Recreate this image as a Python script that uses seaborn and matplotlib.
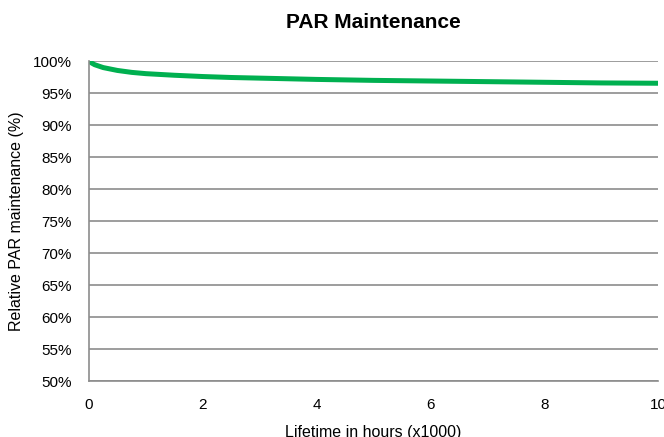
import numpy as np
import pandas as pd
import seaborn as sns
import matplotlib.pyplot as plt
from matplotlib.ticker import PercentFormatter

# Data (hours x1000 vs relative PAR maintenance %)
hours = [0, 0.05, 0.1, 0.25, 0.5, 0.75, 1, 1.5, 2, 2.5, 3, 4, 5, 6, 7, 8, 9, 10]
par = [100, 99.7, 99.45, 99.0, 98.55, 98.25, 98.05, 97.8, 97.6, 97.45, 97.35, 97.15, 97.0, 96.9, 96.8, 96.7, 96.6, 96.55]

df = pd.DataFrame({'hours': hours, 'par': par})

sns.set_style('white', {'text.color': 'black', 'axes.labelcolor': 'black'})
plt.rcParams['font.family'] = ['Liberation Sans', 'DejaVu Sans']

fig = plt.figure(figsize=(6.64, 4.37), dpi=100)
ax = fig.add_axes([0.134, 0.128, 0.857, 0.732])

sns.lineplot(data=df, x='hours', y='par', color='#00B050', linewidth=3.6, ax=ax)

ax.set_xlim(0, 10)
ax.set_ylim(50, 100)
ax.set_xticks(range(0, 11, 2))
ax.set_yticks(range(50, 101, 5))
ax.yaxis.set_major_formatter(PercentFormatter(decimals=0))
ax.grid(axis='y', color='#8c8c8c', linewidth=1.2)
ax.set_axisbelow(True)

for side in ['top', 'right']:
    ax.spines[side].set_visible(False)
for side in ['left', 'bottom']:
    ax.spines[side].set_color('#8c8c8c')
    ax.spines[side].set_linewidth(1.2)

ax.tick_params(axis='both', colors='#8c8c8c', labelcolor='black', labelsize=11,
               length=4.5, width=1.2, direction='out')
ax.tick_params(axis='x', pad=8)
ax.tick_params(axis='y', pad=8)

ax.set_title('PAR Maintenance', fontsize=15, fontweight='bold', pad=24, color='black')
ax.set_xlabel('Lifetime in hours (x1000)', fontsize=11.5, labelpad=9, color='black')
ax.set_ylabel('Relative PAR maintenance (%)', fontsize=11.5, labelpad=6, color='black')

fig.savefig('out.png', dpi=100)
